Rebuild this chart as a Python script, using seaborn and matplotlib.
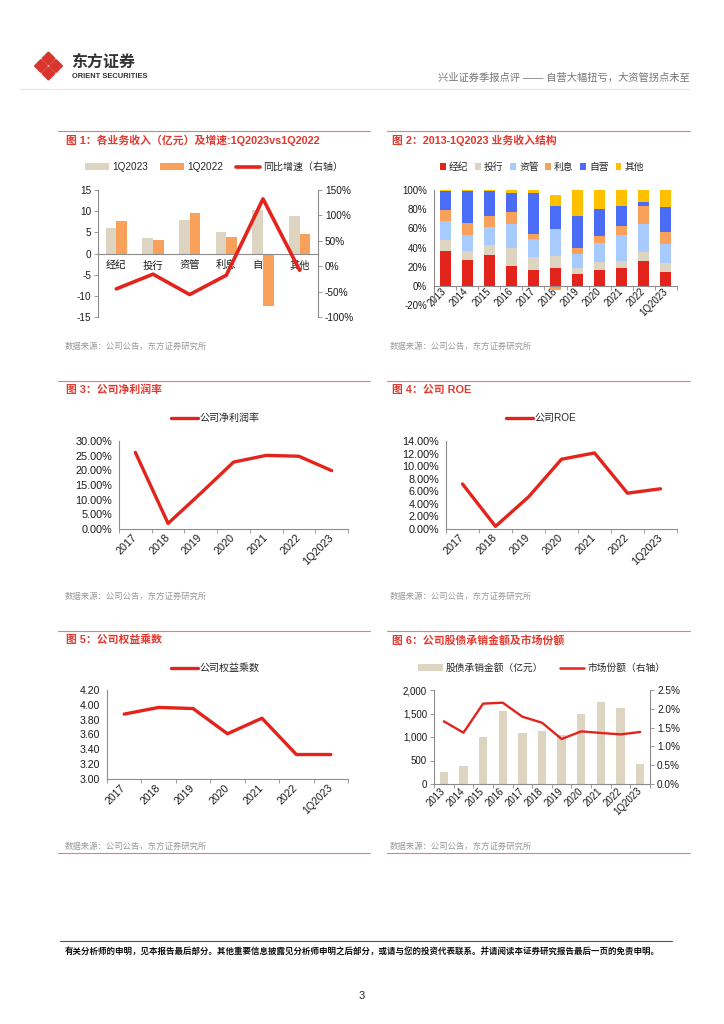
import numpy as np
import pandas as pd
import matplotlib
matplotlib.use('Agg')
import matplotlib.pyplot as plt
import seaborn as sns
from matplotlib.patches import Patch, Polygon
from matplotlib.lines import Line2D
from matplotlib.ticker import FuncFormatter, FixedLocator

# ---------------- data ----------------
biz_cats = ['经纪', '投行', '资管', '利息', '自营', '其他']
rev_1q2023 = [6.1, 3.7, 7.8, 5.0, 10.3, 8.8]
rev_1q2022 = [7.6, 3.2, 9.6, 4.0, -12.4, 4.6]
rev_yoy = [-44.6, -15.7, -55.8, -17.7, 132.5, -7.9]

years_all = ['2013', '2014', '2015', '2016', '2017', '2018', '2019', '2020', '2021', '2022', '1Q2023']
mix_names = ['经纪', '投行', '资管', '利息', '自营', '其他']
mix_brokerage = [36.0, 27.0, 32.3, 21.2, 17.0, 19.1, 12.5, 16.7, 19.1, 26.0, 14.9]
mix_ib = [12.0, 9.8, 10.1, 18.7, 12.9, 11.8, 5.9, 8.3, 6.9, 9.8, 9.4]
mix_am = [19.8, 16.3, 19.4, 24.7, 19.4, 28.5, 15.3, 19.8, 27.1, 29.1, 19.8]
mix_interest = [11.5, 12.5, 11.1, 12.5, 5.2, -4.2, 6.2, 7.3, 9.7, 18.8, 12.5]
mix_prop = [19.8, 33.4, 26.1, 19.4, 42.0, 24.3, 33.4, 28.5, 20.9, 3.8, 25.7]
mix_other = [1.0, 1.0, 1.0, 3.5, 3.5, 11.4, 26.7, 19.4, 16.3, 12.5, 17.7]

years_recent = ['2017', '2018', '2019', '2020', '2021', '2022', '1Q2023']
net_margin = [26.1, 1.9, 12.2, 22.8, 25.1, 24.8, 19.9]
roe = [7.16, 0.42, 5.1, 11.1, 12.1, 5.7, 6.4]
equity_mult = [3.875, 3.965, 3.95, 3.61, 3.82, 3.33, 3.33]

uw_amount = [255, 390, 1007, 1560, 1092, 1121, 1050, 1490, 1745, 1610, 425]
uw_share = [1.667, 1.365, 2.137, 2.163, 1.79, 1.63, 1.197, 1.40, 1.357, 1.32, 1.383]

titles = ['图 1：各业务收入（亿元）及增速:1Q2023vs1Q2022',
          '图 2：2013-1Q2023 业务收入结构',
          '图 3：公司净利润率',
          '图 4：公司 ROE',
          '图 5：公司权益乘数',
          '图 6：公司股债承销金额及市场份额']
source_text = '数据来源：公司公告，东方证券研究所'
header_text = '兴业证券季报点评 —— 自营大幅扭亏，大资管拐点未至'
footer_text = ('有关分析师的申明，见本报告最后部分。其他重要信息披露见分析师申明之后部分，'
               '或请与您的投资代表联系。并请阅读本证券研究报告最后一页的免责申明。')

# ---------------- style ----------------
sns.set_theme(style='white')
plt.rcParams['font.family'] = ['Liberation Sans', 'Noto Sans CJK SC']
plt.rcParams['axes.unicode_minus'] = False

RED = '#E3241C'
TITLE_RED = '#E2382E'
SEC_LINE = '#EC7A72'
BEIGE = '#DDD5C1'
ORANGE = '#F9A05A'
LBLUE = '#A8CBFF'
BLUE = '#4B6CF5'
YELLOW = '#FFC000'
AX = '#8C8C8C'
TXT = '#1a1a1a'

W, H = 724, 1024
fig = plt.figure(figsize=(W / 100, H / 100), dpi=100)
fig.patch.set_facecolor('white')


def px_axes(x0, y0, x1, y1):
    return fig.add_axes([x0 / W, 1 - y1 / H, (x1 - x0) / W, (y1 - y0) / H])


def fpos(x, y):
    return (x / W, 1 - y / H)


def base_style(ax, fs):
    for s in ['top', 'right']:
        ax.spines[s].set_visible(False)
    for s in ['left', 'bottom']:
        ax.spines[s].set_color(AX)
        ax.spines[s].set_linewidth(0.8)
    ax.tick_params(axis='both', which='major', labelsize=fs, labelcolor=TXT,
                   color=AX, length=3, width=0.6, pad=2)
    ax.set_xlabel('')
    ax.set_ylabel('')
    ax.grid(False)


def boundary_ticks(ax, n):
    ax.xaxis.set_minor_locator(FixedLocator(np.arange(n + 1) - 0.5))
    ax.tick_params(axis='x', which='minor', length=3, width=0.6, color=AX, bottom=True)
    ax.tick_params(axis='x', which='major', length=0)


def rot_labels(ax, fs, pad):
    ax.tick_params(axis='x', which='major', pad=pad, labelsize=fs)
    plt.setp(ax.get_xticklabels(), rotation=45, ha='right', va='center',
             rotation_mode='anchor')


def right_axis(axb, fs):
    for s in ['top', 'left', 'bottom']:
        axb.spines[s].set_visible(False)
    axb.spines['right'].set_color(AX)
    axb.spines['right'].set_linewidth(0.8)
    axb.tick_params(axis='y', labelsize=fs, labelcolor=TXT, color=AX, length=3, width=0.6, pad=2)
    axb.set_ylabel('')
    axb.grid(False)


# ---------------- chart 1 ----------------
ax1 = px_axes(98, 190, 318, 317)
df1 = pd.DataFrame({'业务': biz_cats * 2,
                    '收入': rev_1q2023 + rev_1q2022,
                    '期间': ['1Q2023'] * len(biz_cats) + ['1Q2022'] * len(biz_cats)})
sns.barplot(data=df1, x='业务', y='收入', hue='期间', palette=[BEIGE, ORANGE],
            width=0.58, gap=0, saturation=1, errorbar=None, legend=False,
            linewidth=0, edgecolor='none', ax=ax1)
base_style(ax1, 7.2)
ax1.set_ylim(-15, 15)
ax1.set_yticks(np.arange(-15, 16, 5))
ax1.spines['bottom'].set_position(('data', 0))
ax1.tick_params(axis='x', which='major', length=0, pad=5, labelsize=7.4)
ax1.set_xlim(-0.5, len(biz_cats) - 0.5)
ax1b = ax1.twinx()
sns.lineplot(x=biz_cats, y=rev_yoy, ax=ax1b, color=RED, lw=2.6, sort=False)
ax1b.set_ylim(-100, 150)
ax1b.set_yticks(np.arange(-100, 151, 50))
ax1b.yaxis.set_major_formatter(FuncFormatter(lambda v, p: f'{v:.0f}%'))
right_axis(ax1b, 7.2)
ax1b.set_xlim(-0.5, len(biz_cats) - 0.5)
fig.legend(handles=[Patch(facecolor=BEIGE, edgecolor='none', label='1Q2023'),
                    Patch(facecolor=ORANGE, edgecolor='none', label='1Q2022'),
                    Line2D([], [], color=RED, lw=2.6, label='同比增速（右轴）')],
           loc='center', bbox_to_anchor=fpos(214, 167), ncol=3, frameon=False,
           fontsize=7.2, handlelength=2.4, handleheight=0.6, handletextpad=0.35,
           columnspacing=1.2, borderpad=0)

# ---------------- chart 2 ----------------
ax2 = px_axes(434, 190, 677, 305)
mix_series = [mix_brokerage, mix_ib, mix_am, mix_interest, mix_prop, mix_other]
mix_colors = [RED, BEIGE, LBLUE, ORANGE, BLUE, YELLOW]
pos_b = np.zeros(len(years_all))
neg_b = np.zeros(len(years_all))
for vals, col, name in zip(mix_series, mix_colors, mix_names):
    v = np.asarray(vals, dtype=float)
    bottom = np.where(v >= 0, pos_b, neg_b)
    ax2.bar(years_all, v, bottom=bottom, width=0.5, color=col, linewidth=0, label=name)
    pos_b = pos_b + np.where(v >= 0, v, 0)
    neg_b = neg_b + np.where(v < 0, v, 0)
base_style(ax2, 7)
ax2.set_ylim(-20, 100)
ax2.set_yticks(np.arange(-20, 101, 20))
ax2.yaxis.set_major_formatter(FuncFormatter(lambda v, p: f'{v:.0f}%'))
ax2.spines['bottom'].set_position(('data', 0))
ax2.set_xlim(-0.5, len(years_all) - 0.5)
boundary_ticks(ax2, len(years_all))
rot_labels(ax2, 7, 3)
fig.legend(handles=[Patch(facecolor=c, edgecolor='none', label=n) for c, n in zip(mix_colors, mix_names)],
           loc='center', bbox_to_anchor=fpos(542, 167), ncol=6, frameon=False,
           fontsize=7, handlelength=0.6, handleheight=0.6, handletextpad=0.3,
           columnspacing=0.7, borderpad=0)


# ---------------- charts 3-5 ----------------
def line_chart(rect, vals, ylim, yticks, fmt, fs, label, leg_center):
    ax = px_axes(*rect)
    sns.lineplot(x=years_recent, y=vals, ax=ax, color=RED, lw=2.4, sort=False)
    base_style(ax, fs)
    ax.set_ylim(*ylim)
    ax.set_yticks(yticks)
    ax.yaxis.set_major_formatter(FuncFormatter(fmt))
    ax.set_xlim(-0.5, len(years_recent) - 0.5)
    boundary_ticks(ax, len(years_recent))
    rot_labels(ax, fs, 5)
    fig.legend(handles=[Line2D([], [], color=RED, lw=2.4, label=label)],
               loc='center', bbox_to_anchor=fpos(*leg_center), frameon=False,
               fontsize=7.2, handlelength=2.7, handletextpad=0.2, borderpad=0)
    return ax


line_chart((119, 441, 348, 529), net_margin, (0, 30), np.arange(0, 30.1, 5),
           lambda v, p: f'{v:.2f}%', 7.8, '公司净利润率', (215, 418))
line_chart((446, 441, 677, 529), roe, (0, 14), np.arange(0, 14.1, 2),
           lambda v, p: f'{v:.2f}%', 7.8, '公司ROE', (541, 418))
line_chart((107, 690, 348, 779), equity_mult, (3.0, 4.2), np.arange(3.0, 4.21, 0.2),
           lambda v, p: f'{v:.2f}', 7.6, '公司权益乘数', (215, 668))

# ---------------- chart 6 ----------------
ax6 = px_axes(434, 690, 650, 784)
sns.barplot(x=years_all, y=uw_amount, color=BEIGE, width=0.43, saturation=1,
            errorbar=None, linewidth=0, edgecolor='none', ax=ax6)
base_style(ax6, 7)
ax6.set_ylim(0, 2000)
ax6.set_yticks(np.arange(0, 2001, 500))
ax6.yaxis.set_major_formatter(FuncFormatter(lambda v, p: f'{v:,.0f}'))
ax6.set_xlim(-0.5, len(years_all) - 0.5)
boundary_ticks(ax6, len(years_all))
rot_labels(ax6, 7, 4)
ax6b = ax6.twinx()
sns.lineplot(x=years_all, y=uw_share, ax=ax6b, color=RED, lw=1.7, sort=False)
ax6b.set_ylim(0, 2.5)
ax6b.set_yticks(np.arange(0, 2.51, 0.5))
ax6b.yaxis.set_major_formatter(FuncFormatter(lambda v, p: f'{v:.1f}%'))
right_axis(ax6b, 7.2)
ax6b.set_xlim(-0.5, len(years_all) - 0.5)
fig.legend(handles=[Patch(facecolor=BEIGE, edgecolor='none', label='股债承销金额（亿元）'),
                    Line2D([], [], color=RED, lw=1.8, label='市场份额（右轴）')],
           loc='center', bbox_to_anchor=fpos(542, 668), ncol=2, frameon=False,
           fontsize=7, handlelength=2.5, handleheight=0.6, handletextpad=0.35,
           columnspacing=1.7, borderpad=0)

# ---------------- page decoration ----------------
deco = fig.add_axes([0, 0, 1, 1], zorder=-5)
deco.set_xlim(0, W)
deco.set_ylim(H, 0)
deco.axis('off')

# logo
cx, cy, h = 48.5, 66, 7.5
for dx, dy in [(0, -h), (h, 0), (0, h), (-h, 0)]:
    px, py = cx + dx, cy + dy
    s = h - 1.6
    deco.add_patch(Polygon([(px, py - s), (px + s, py), (px, py + s), (px - s, py)],
                           closed=True, facecolor='#D8362C', edgecolor='#D8362C',
                           lw=1.6, joinstyle='round'))
deco.text(71, 62, '东方证券', fontsize=11.5, fontweight='bold', color='#333333',
          va='center', ha='left')
deco.text(71.5, 76.5, 'ORIENT SECURITIES', fontsize=5.4, fontweight='bold', color='#333333',
          va='center', ha='left')
deco.text(690, 78, header_text, fontsize=7.4, color='#777777', va='center', ha='right')
deco.plot([20, 690], [89, 89], color='#E6E6E6', lw=0.8)

# section lines, titles and sources
row_tops = [131, 381, 631]
for r, yt in enumerate(row_tops):
    deco.plot([58, 370], [yt, yt], color=SEC_LINE, lw=0.8)
    deco.plot([387, 690], [yt, yt], color=SEC_LINE, lw=0.8)
    deco.text(66, yt + 9, titles[2 * r], fontsize=7.8, fontweight='bold', color=TITLE_RED,
              va='center', ha='left')
    deco.text(392, yt + 9, titles[2 * r + 1], fontsize=7.8, fontweight='bold', color=TITLE_RED,
              va='center', ha='left')
    deco.text(65, yt + 216, source_text, fontsize=6, color='#9a9a9a', va='center', ha='left')
    deco.text(390, yt + 216, source_text, fontsize=6, color='#9a9a9a', va='center', ha='left')
deco.plot([58, 370], [853, 853], color=SEC_LINE, lw=0.8)
deco.plot([387, 690], [853, 853], color=SEC_LINE, lw=0.8)

# footer
deco.plot([60, 672], [941, 941], color='#555555', lw=0.8)
deco.text(362, 951, footer_text, fontsize=6.1, fontweight='bold', color='#111111',
          va='center', ha='center')
deco.text(362, 996, '3', fontsize=8, color='#222222', va='center', ha='center')

fig.savefig('out.png', dpi=100, facecolor='white')
